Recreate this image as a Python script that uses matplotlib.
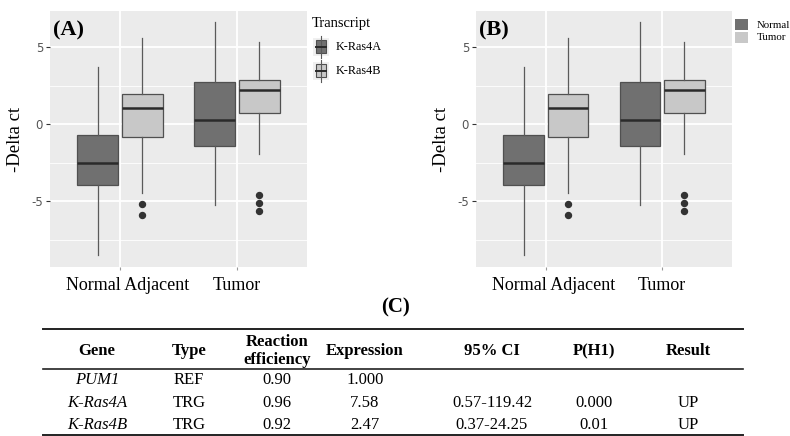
import matplotlib.pyplot as plt
from matplotlib.patches import Rectangle
from matplotlib.transforms import ScaledTranslation

# data
groups = ['Normal Adjacent', 'Tumor']
transcripts = ['K-Ras4A', 'K-Ras4B']
legend_b = ['Normal', 'Tumor']

ras4a_q1 = [-3.95, -1.4]
ras4a_med = [-2.5, 0.3]
ras4a_q3 = [-0.72, 2.75]
ras4a_lo = [-8.45, -5.2]
ras4a_hi = [3.75, 6.65]
ras4a_out = [[], []]

ras4b_q1 = [-0.8, 0.74]
ras4b_med = [1.05, 2.2]
ras4b_q3 = [2.0, 2.9]
ras4b_lo = [-4.45, -1.9]
ras4b_hi = [5.6, 5.35]
ras4b_out = [[-5.15, -5.87], [-4.55, -5.07, -5.6]]

yticks = [-5, 0, 5]
yminor = [-7.5, -2.5, 2.5]

table_cols = ['Gene', 'Type', 'Reaction\nefficiency', 'Expression', '95% CI', 'P(H1)', 'Result']
genes = ['PUM1', 'K-Ras4A', 'K-Ras4B']
types = ['REF', 'TRG', 'TRG']
efficiency = ['0.90', '0.96', '0.92']
expression = ['1.000', '7.58', '2.47']
ci = ['', '0.57-119.42', '0.37-24.25']
p_h1 = ['', '0.000', '0.01']
result = ['', 'UP', 'UP']

fills = ['#707070', '#c8c8c8']
offsets = [-0.19, 0.19]
serif = 'Liberation Serif'

series = {
    'K-Ras4A': (ras4a_q1, ras4a_med, ras4a_q3, ras4a_lo, ras4a_hi, ras4a_out),
    'K-Ras4B': (ras4b_q1, ras4b_med, ras4b_q3, ras4b_lo, ras4b_hi, ras4b_out),
}

fig = plt.figure(figsize=(7.9, 4.36), dpi=100)


def draw_panel(ax, tag):
    ax.set_facecolor('#ebebeb')
    for j, name in enumerate(transcripts):
        q1, med, q3, lo, hi, out = series[name]
        stats = []
        for i in range(len(groups)):
            stats.append(dict(q1=q1[i], med=med[i], q3=q3[i], whislo=lo[i],
                              whishi=hi[i], fliers=out[i]))
        pos = [i + 1 + offsets[j] for i in range(len(groups))]
        ax.bxp(stats, positions=pos, widths=0.35, patch_artist=True,
               showcaps=False, manage_ticks=False,
               boxprops=dict(facecolor=fills[j], edgecolor='#505050', linewidth=0.9),
               medianprops=dict(color='#2a2a2a', linewidth=1.8),
               whiskerprops=dict(color='#5a5a5a', linewidth=0.9),
               flierprops=dict(marker='o', markerfacecolor='#333333',
                               markeredgecolor='#333333', markersize=4.3))
    ax.set_xlim(0.4, 2.6)
    ax.set_ylim(-9.25, 7.35)
    ax.set_xticks([1, 2])
    ax.set_xticklabels(groups, fontfamily=serif, fontsize=13)
    ax.set_yticks(yticks)
    ax.set_yticklabels([str(v) for v in yticks], fontsize=8.5)
    ax.set_yticks(yminor, minor=True)
    ax.grid(True, which='major', color='white', linewidth=1.3)
    ax.grid(True, which='minor', axis='y', color='white', linewidth=0.6)
    ax.set_axisbelow(True)
    for s in ax.spines.values():
        s.set_visible(False)
    ax.tick_params(axis='y', which='major', length=3, color='#333333',
                   labelcolor='#555555', pad=2)
    ax.tick_params(axis='y', which='minor', length=0)
    ax.tick_params(axis='x', length=2, color='#999999', pad=5)
    # the first group label sits a little right of its tick in the original
    lbl = ax.xaxis.get_major_ticks()[0].label1
    lbl.set_transform(lbl.get_transform() + ScaledTranslation(0.08, 0, fig.dpi_scale_trans))
    ax.set_ylabel('-Delta ct', fontfamily=serif, fontsize=13.5)
    ax.yaxis.set_label_coords(-0.1, 0.5)
    ax.text(0.012, 0.925, tag, transform=ax.transAxes, fontfamily=serif,
            fontweight='bold', fontsize=16, va='center', ha='left')


ax_a = fig.add_axes([50 / 790, 1 - 267 / 436, 257 / 790, 256 / 436])
draw_panel(ax_a, '(A)')
ax_b = fig.add_axes([476 / 790, 1 - 267 / 436, 256 / 790, 256 / 436])
draw_panel(ax_b, '(B)')

# overlay in pixel units for legends and the table
ov = fig.add_axes([0, 0, 1, 1])
ov.set_xlim(0, 790)
ov.set_ylim(436, 0)
ov.axis('off')

# legend of panel A
ov.text(312, 23, 'Transcript', fontfamily=serif, fontsize=10.5, va='center')
for j, name in enumerate(transcripts):
    yc = 47 + 24 * j
    ov.add_patch(Rectangle((313, yc - 9), 16, 18, facecolor='#f0f0f0', edgecolor='none'))
    ov.plot([321, 321], [yc - 11, yc + 11], color='#5a5a5a', lw=0.8)
    ov.add_patch(Rectangle((316, yc - 6.5), 10, 13, facecolor=fills[j],
                           edgecolor='#505050', lw=0.8))
    ov.plot([316, 326], [yc, yc], color='#2a2a2a', lw=1.4)
    ov.text(336, yc, name, fontfamily=serif, fontsize=8.8, va='center')

# legend of panel B
for j, name in enumerate(legend_b):
    yc = 25 + 13 * j
    ov.add_patch(Rectangle((735, yc - 5.5), 13, 11, facecolor=fills[j], edgecolor='none'))
    ov.text(757, yc, name, fontfamily=serif, fontsize=7.8, va='center')

# table (C)
ov.text(395, 307, '(C)', fontfamily=serif, fontweight='bold', fontsize=15,
        ha='center', va='center')
col_x = [97, 189, 277, 365, 492, 594, 688]
for rule_y, lw in [(329, 1.4), (369, 1.2), (435, 1.4)]:
    ov.plot([43, 743], [rule_y, rule_y], color='#222222', lw=lw, clip_on=False)
for x, head in zip(col_x, table_cols):
    ov.text(x, 351, head, fontfamily=serif, fontweight='bold', fontsize=12,
            ha='center', va='center', linespacing=1.1)
row_y = [380, 403, 425]
columns = [genes, types, efficiency, expression, ci, p_h1, result]
for c, (x, col) in enumerate(zip(col_x, columns)):
    for y, val in zip(row_y, col):
        ov.text(x, y, val, fontfamily=serif, fontsize=12, ha='center', va='center',
                style='italic' if c == 0 else 'normal')

fig.savefig('out.png', dpi=100)
